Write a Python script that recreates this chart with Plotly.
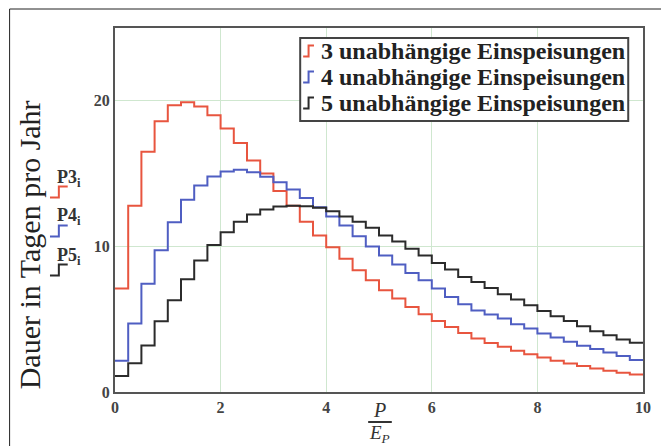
import plotly.graph_objects as go

# ---- data ----
step_width = 0.25  # width of each step on the P/E_P axis
P3 = [7.1, 12.8, 16.5, 18.6, 19.7, 19.9, 19.6, 19.0, 18.1, 17.1,
      15.9, 15.0, 13.8, 12.8, 11.7, 10.75, 9.95, 9.16, 8.36, 7.67,
      6.99, 6.42, 5.84, 5.34, 4.88, 4.47, 4.06, 3.68, 3.36, 3.1,
      2.83, 2.6, 2.37, 2.15, 1.96, 1.78, 1.62, 1.46, 1.32, 1.21]
P4 = [2.15, 4.7, 7.44, 9.73, 11.66, 13.2, 14.18, 14.8, 15.14, 15.27,
      15.09, 14.79, 14.4, 13.9, 13.33, 12.69, 12.05, 11.44, 10.7, 10.0,
      9.38, 8.75, 8.17, 7.67, 7.1, 6.53, 6.03, 5.6, 5.33, 5.05,
      4.66, 4.36, 4.02, 3.75, 3.45, 3.17, 2.95, 2.72, 2.47, 2.19]
P5 = [1.1, 1.97, 3.2, 4.86, 6.3, 7.74, 9.04, 10.1, 10.98, 11.7,
      12.19, 12.53, 12.74, 12.8, 12.76, 12.65, 12.42, 12.05, 11.7, 11.28,
      10.75, 10.34, 9.84, 9.38, 8.86, 8.42, 7.9, 7.55, 7.15, 6.71,
      6.35, 5.96, 5.57, 5.21, 4.88, 4.52, 4.18, 3.9, 3.61, 3.38]
series = [P3, P4, P5]
series_names = ["3 unabhängige Einspeisungen",
                "4 unabhängige Einspeisungen",
                "5 unabhängige Einspeisungen"]
trace_labels = ["P3", "P4", "P5"]
colors = ["#e8553f", "#4f5ec2", "#2b2b2b"]
x_ticks = [0, 2, 4, 6, 8, 10]
y_ticks = [0, 10, 20]
x_range = [0, 10]
y_range = [0, 25]

W, H = 661, 446
L, R, T, B = 115, 10, 28, 54
PW, PH = W - L - R, H - T - B
SERIF = "Liberation Serif, Times New Roman, serif"


def px(x):
    return (x - L) / PW


def py(y):
    return (H - B - y) / PH


fig = go.Figure()
for vals, name, c in zip(series, series_names, colors):
    edges = [i * step_width for i in range(len(vals) + 1)]
    fig.add_trace(go.Scatter(
        x=edges, y=vals + [vals[-1]], mode="lines", name=name,
        line=dict(shape="hv", color=c, width=2), showlegend=False))

shapes = []
annotations = []

# outer picture border
shapes.append(dict(type="path", xref="paper", yref="paper",
                   path=f"M {px(8)} {py(460)} L {px(8)} {py(9)} L {px(680)} {py(9)}",
                   line=dict(color="#222", width=1)))

# legend box (manual, Mathcad-like)
shapes.append(dict(type="rect", xref="paper", yref="paper",
                   x0=px(303), x1=px(636), y0=py(121), y1=py(38),
                   line=dict(color="#444", width=2), fillcolor="white", layer="above"))


def step_glyph(x0, yc, color, w=10, h=10):
    # small step symbol: low on the left, high on the right
    return dict(type="path", xref="paper", yref="paper", layer="above",
                path=(f"M {px(x0)} {py(yc + h / 2)} L {px(x0 + w / 2)} {py(yc + h / 2)} "
                      f"L {px(x0 + w / 2)} {py(yc - h / 2)} L {px(x0 + w)} {py(yc - h / 2)}"),
                line=dict(color=color, width=2))


legend_rows = [51, 77, 103]
for yrow, name, c in zip(legend_rows, series_names, colors):
    shapes.append(step_glyph(306, yrow, c, w=11, h=11))
    annotations.append(dict(xref="paper", yref="paper", x=px(322), y=py(yrow),
                            xanchor="left", yanchor="middle", showarrow=False,
                            text=f"<b>{name}</b>",
                            font=dict(family=SERIF, size=24, color="#222")))

# trace labels at the left (P3_i, P4_i, P5_i)
label_rows = [178, 217, 256]
for yrow, lab, c in zip(label_rows, trace_labels, colors):
    annotations.append(dict(xref="paper", yref="paper", x=px(54), y=py(yrow),
                            xanchor="left", yanchor="middle", showarrow=False,
                            text=f"<b>{lab}<sub>i</sub></b>",
                            font=dict(family=SERIF, size=18, color="#333")))
    shapes.append(step_glyph(49, yrow + 14, c, w=18, h=11))

# y axis title
annotations.append(dict(xref="paper", yref="paper", x=px(28), y=py(245),
                        xanchor="center", yanchor="middle", showarrow=False,
                        textangle=-90, text="Dauer in Tagen pro Jahr",
                        font=dict(family=SERIF, size=30, color="#222")))

# x axis title as a fraction P / E_P
annotations.append(dict(xref="paper", yref="paper", x=px(384), y=py(410),
                        xanchor="center", yanchor="middle", showarrow=False,
                        text="<i>P</i>",
                        font=dict(family=SERIF, size=20, color="#333")))
annotations.append(dict(xref="paper", yref="paper", x=px(384), y=py(434),
                        xanchor="center", yanchor="middle", showarrow=False,
                        text="<i>E<sub>P</sub></i>",
                        font=dict(family=SERIF, size=19, color="#333")))
shapes.append(dict(type="line", xref="paper", yref="paper",
                   x0=px(372), x1=px(396), y0=py(422), y1=py(422),
                   line=dict(color="#333", width=2)))

axis_common = dict(showgrid=True, gridcolor="#cfe7cf", gridwidth=1,
                   zeroline=False, showline=True, linecolor="#555", linewidth=2,
                   mirror=True, ticks="",
                   tickfont=dict(family=SERIF, size=16, color="#444"))

fig.update_layout(
    width=W, height=H,
    margin=dict(l=L, r=R, t=T, b=B, pad=0),
    paper_bgcolor="white", plot_bgcolor="white",
    xaxis=dict(range=x_range, tickvals=x_ticks,
               ticktext=[f"<b>{v}</b>" for v in x_ticks], **axis_common),
    yaxis=dict(range=y_range, tickvals=y_ticks,
               ticktext=[f"<b>{v}</b>" for v in y_ticks], **axis_common),
    shapes=shapes, annotations=annotations,
)

fig.write_html("out.html")
